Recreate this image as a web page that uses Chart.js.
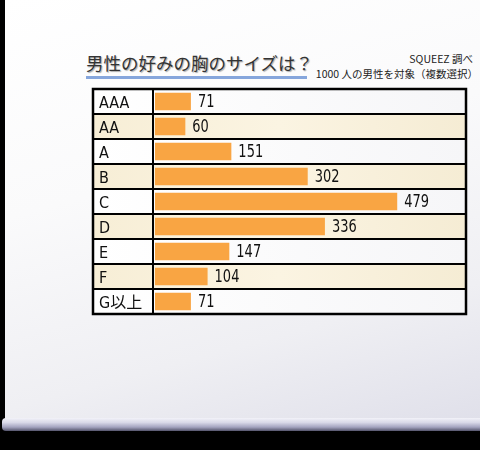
<!DOCTYPE html>
<html>
<head>
<meta charset="utf-8">
<script src="https://cdn.jsdelivr.net/npm/chart.js@4"></script>
<style>
  html, body { margin: 0; padding: 0; background: #000; }
  #wrap { position: relative; width: 480px; height: 450px; overflow: hidden; background: #000; }
  #panel {
    position: absolute; left: 5px; top: 0; width: 475px; height: 419px;
    background: linear-gradient(165deg, #ffffff 0%, #fafafb 40%, #efeff3 75%, #e0e0ea 100%);
  }
  #roller {
    position: absolute; left: 2px; top: 418px; width: 478px; height: 13px;
    border-radius: 4px 0 0 4px;
    background: linear-gradient(180deg, #f2f2f8 0%, #d8d8e8 35%, #a4a4c0 70%, #54546c 100%);
  }
  #title {
    position: absolute; left: 86px; top: 51px; width: 221px;
    font: 17.5px "Noto Sans CJK JP", sans-serif; color: #333;
    text-shadow: 1px 1px 1px #aaa; white-space: nowrap;
    border-bottom: 3px solid #86a6dc; line-height: 24px; padding-bottom: 1px;
  }
  .note {
    position: absolute; font: 10.5px "Noto Sans CJK JP", sans-serif;
    color: #222; white-space: nowrap; text-align: right;
  }
  canvas { position: absolute; left: 0; top: 0; }
</style>
</head>
<body>
<div id="wrap">
  <div id="panel"></div>
  <div id="roller"></div>
  <div id="title">男性の好みの胸のサイズは？</div>
  <div class="note" style="top:51px; right:7px;">SQUEEZ 調べ</div>
  <div class="note" style="top:66px; right:2px;">1000 人の男性を対象（複数選択）</div>
  <canvas id="chart" width="480" height="450"></canvas>
</div>
<script>
const sizes = ['AAA', 'AA', 'A', 'B', 'C', 'D', 'E', 'F', 'G以上'];
const votes = [71, 60, 151, 302, 479, 336, 147, 104, 71];

const narrow = '"Liberation Sans Narrow", "DejaVu Sans Condensed", "Noto Sans CJK JP", sans-serif';

// row backgrounds, grid lines and value labels of the table
const tablePlugin = {
  id: 'table',
  beforeDraw(chart) {
    const { ctx, chartArea: a, scales: { y } } = chart;
    const rowH = (a.bottom - a.top) / sizes.length;
    const left = y.left - 6;
    ctx.save();
    sizes.forEach((s, i) => {
      const top = y.getPixelForValue(i) - rowH / 2;
      const g = ctx.createLinearGradient(left, 0, a.right, 0);
      if (i % 2) {
        g.addColorStop(0, '#f7eed6');
        g.addColorStop(0.5, '#fbf4e2');
        g.addColorStop(1, '#f5ecd4');
      } else {
        g.addColorStop(0, '#ffffff');
        g.addColorStop(1, '#f6f6f8');
      }
      ctx.fillStyle = g;
      ctx.fillRect(left, top, a.right - left, rowH);
    });
    ctx.restore();
  },
  afterDatasetsDraw(chart) {
    const { ctx, chartArea: a, scales: { x, y } } = chart;
    const rowH = (a.bottom - a.top) / sizes.length;
    const left = y.left - 6;
    ctx.save();
    ctx.strokeStyle = '#000';
    ctx.lineWidth = 2;
    for (let k = 1; k < sizes.length; k++) {
      const yy = Math.round(a.top + k * rowH);
      ctx.beginPath();
      ctx.moveTo(left, yy);
      ctx.lineTo(a.right, yy);
      ctx.stroke();
    }
    ctx.beginPath();
    ctx.moveTo(a.left - 2, a.top);
    ctx.lineTo(a.left - 2, a.bottom);
    ctx.stroke();
    ctx.lineWidth = 2.5;
    ctx.strokeRect(left, a.top, a.right - left, a.bottom - a.top);

    // value labels, squeezed a little to look like the narrow face of the original
    ctx.fillStyle = '#111';
    ctx.font = '17px ' + narrow;
    ctx.textAlign = 'left';
    ctx.textBaseline = 'middle';
    votes.forEach((v, i) => {
      const px = x.getPixelForValue(v) + 7;
      ctx.save();
      ctx.translate(px, y.getPixelForValue(i) + 1);
      ctx.scale(0.85, 1.05);
      ctx.fillText(String(v), 0, 0);
      ctx.restore();
    });
    ctx.restore();
  }
};

new Chart(document.getElementById('chart'), {
  type: 'bar',
  data: {
    labels: sizes,
    datasets: [{
      data: votes,
      backgroundColor: '#f9a543',
      borderWidth: 0,
      categoryPercentage: 1,
      barPercentage: 0.7
    }]
  },
  options: {
    indexAxis: 'y',
    responsive: false,
    animation: false,
    layout: { padding: { left: 99, right: 14, top: 89, bottom: 136 } },
    scales: {
      x: { display: false, min: 0, max: 615 },
      y: {
        grid: { display: false },
        border: { display: false },
        afterFit(scale) { scale.width = 56; },
        ticks: {
          crossAlign: 'far',
          labelOffset: 2,
          color: '#111',
          font: { family: narrow, size: 16 }
        }
      }
    },
    plugins: {
      legend: { display: false },
      tooltip: { enabled: false }
    }
  },
  plugins: [tablePlugin]
});
</script>
</body>
</html>
